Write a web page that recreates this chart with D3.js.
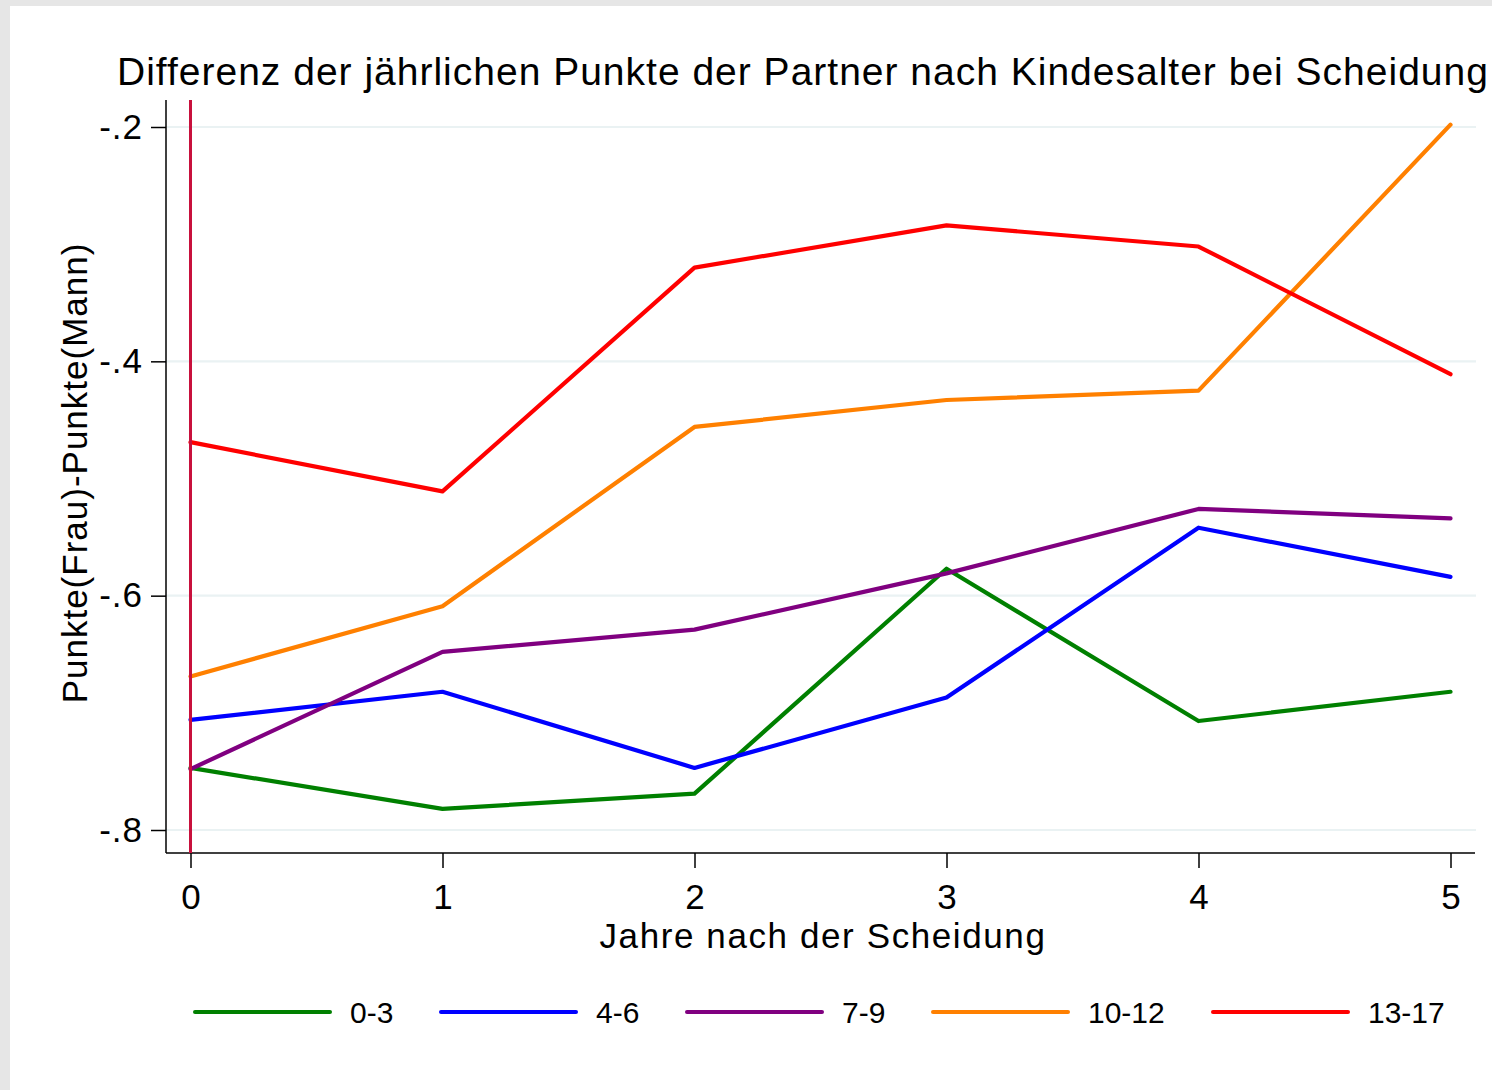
<!DOCTYPE html>
<html>
<head>
<meta charset="utf-8">
<script src="https://cdn.jsdelivr.net/npm/d3@7"></script>
<style>
	html, body { margin: 0; padding: 0; background: #fff; }
	svg { display: block; font-family: Arial, "Liberation Sans", sans-serif; }
</style>
</head>
<body>
<svg id="chart" width="1492" height="1090"></svg>
<script>
// years after divorce
const years = [0, 1, 2, 3, 4, 5];
const groups = ['0-3', '4-6', '7-9', '10-12', '13-17'];
const colors = ['#008000', '#0000ff', '#800080', '#ff8000', '#ff0000'];

const age0_3 = [-0.747, -0.782, -0.769, -0.577, -0.707, -0.682];
const age4_6 = [-0.706, -0.682, -0.747, -0.687, -0.542, -0.584];
const age7_9 = [-0.748, -0.648, -0.629, -0.581, -0.526, -0.534];
const age10_12 = [-0.669, -0.609, -0.456, -0.433, -0.425, -0.198];
const age13_17 = [-0.469, -0.511, -0.320, -0.284, -0.302, -0.411];

const yTicks = [-0.2, -0.4, -0.6, -0.8];
const series = [age0_3, age4_6, age7_9, age10_12, age13_17];

const svg = d3.select('#chart');

// grey frame on top and left
svg.append('rect').attr('x', 0).attr('y', 0).attr('width', 1492).attr('height', 1090).attr('fill', '#e6e6e6');
svg.append('rect').attr('x', 10).attr('y', 6).attr('width', 1482).attr('height', 1084).attr('fill', '#fff');

const plot = { left: 166, right: 1475, top: 100, bottom: 853 };

const x = d3.scaleLinear()
	.domain([0, 5])
	.range([190.5, 1450.5]);

const y = d3.scaleLinear()
	.domain([-0.8, -0.2])
	.range([830, 127]);

// gridlines
svg.append('g')
	.selectAll('line')
	.data(yTicks)
	.join('line')
	.attr('x1', plot.left)
	.attr('x2', plot.right + 1)
	.attr('y1', d => y(d))
	.attr('y2', d => y(d))
	.attr('stroke', '#eaf2f3')
	.attr('stroke-width', 2.2);

// y axis, stata style labels: -.2 with a plain hyphen
const yAxis = d3.axisLeft(y)
	.tickValues(yTicks)
	.tickSize(15)
	.tickPadding(8)
	.tickFormat(d => '-' + d3.format('.1f')(Math.abs(d)).replace('0.', '.'));

const gy = svg.append('g')
	.attr('transform', `translate(${plot.left},0)`)
	.call(yAxis);
gy.select('.domain').remove();
gy.append('line')
	.attr('x1', 0).attr('x2', 0)
	.attr('y1', plot.top).attr('y2', plot.bottom)
	.attr('stroke', '#000').attr('stroke-width', 1.5);
gy.selectAll('.tick line').attr('stroke', '#000').attr('stroke-width', 1.5);
gy.selectAll('.tick text')
	.attr('font-size', 35)
	.attr('fill', '#000')
	.attr('letter-spacing', 1)
	.attr('font-family', 'Arial, "Liberation Sans", sans-serif');

// x axis
const xAxis = d3.axisBottom(x)
	.tickValues(years)
	.tickSize(15)
	.tickPadding(16)
	.tickFormat(d3.format('d'));

const gx = svg.append('g')
	.attr('transform', `translate(0,${plot.bottom})`)
	.call(xAxis);
gx.select('.domain').remove();
gx.append('line')
	.attr('x1', plot.left).attr('x2', plot.right)
	.attr('y1', 0).attr('y2', 0)
	.attr('stroke', '#000').attr('stroke-width', 1.5);
gx.selectAll('.tick line').attr('stroke', '#000').attr('stroke-width', 1.5);
gx.selectAll('.tick text')
	.attr('font-size', 35)
	.attr('fill', '#000')
	.attr('font-family', 'Arial, "Liberation Sans", sans-serif');

// lines
const line = d3.line()
	.x((d, i) => x(years[i]))
	.y(d => y(d));

svg.append('g')
	.selectAll('path')
	.data(series)
	.join('path')
	.attr('d', line)
	.attr('fill', 'none')
	.attr('stroke', (d, i) => colors[i])
	.attr('stroke-width', 4.2)
	.attr('stroke-linejoin', 'round')
	.attr('stroke-linecap', 'round');

// reference line at year 0
svg.append('line')
	.attr('x1', x(0)).attr('x2', x(0))
	.attr('y1', plot.top).attr('y2', plot.bottom)
	.attr('stroke', '#c8103c')
	.attr('stroke-width', 3);

// title
svg.append('text')
	.attr('x', 117)
	.attr('y', 85)
	.attr('font-size', 39)
	.attr('letter-spacing', 1)
	.attr('fill', '#000')
	.text('Differenz der jährlichen Punkte der Partner nach Kindesalter bei Scheidung');

// axis titles
svg.append('text')
	.attr('x', 823)
	.attr('y', 948)
	.attr('text-anchor', 'middle')
	.attr('font-size', 35)
	.attr('letter-spacing', 1.6)
	.attr('fill', '#000')
	.text('Jahre nach der Scheidung');

svg.append('text')
	.attr('transform', 'translate(87,473) rotate(-90)')
	.attr('text-anchor', 'middle')
	.attr('font-size', 35)
	.attr('letter-spacing', 1)
	.attr('fill', '#000')
	.text('Punkte(Frau)-Punkte(Mann)');

// legend
const legendX = [195, 441, 687, 933, 1213];
const legend = svg.append('g')
	.selectAll('g')
	.data(groups)
	.join('g')
	.attr('transform', (d, i) => `translate(${legendX[i]},1012)`);

legend.append('line')
	.attr('x1', 0).attr('x2', 135)
	.attr('y1', 0).attr('y2', 0)
	.attr('stroke', (d, i) => colors[i])
	.attr('stroke-width', 4)
	.attr('stroke-linecap', 'round');

legend.append('text')
	.attr('x', 155)
	.attr('y', 11)
	.attr('font-size', 30)
	.attr('fill', '#000')
	.text(d => d);
</script>
</body>
</html>
